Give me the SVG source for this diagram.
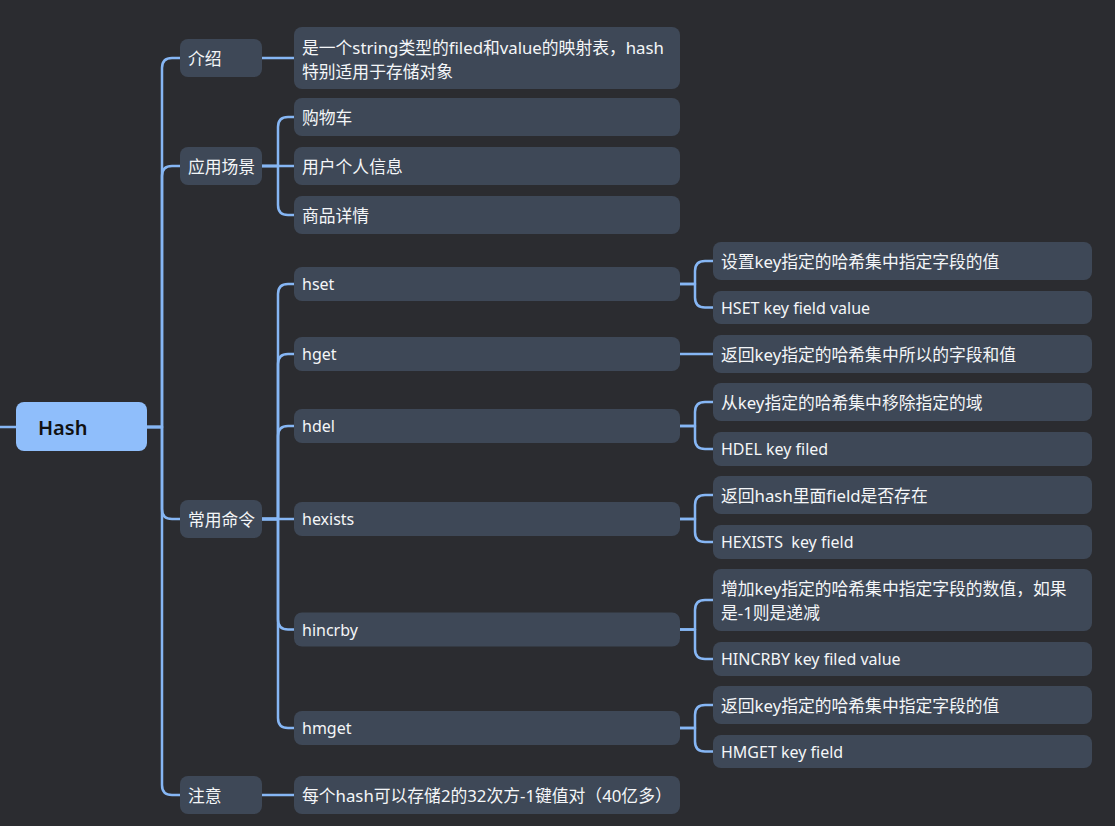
<svg xmlns="http://www.w3.org/2000/svg" width="1115" height="826" viewBox="0 0 1115 826">
<style>
.bg{fill:#2b2c30}
.n{fill:#3e4857}
.root{fill:#8fbefb}
.t{font-family:"Noto Sans","Noto Sans CJK SC",sans-serif;font-size:16px;fill:#f4f6f8;dominant-baseline:central;white-space:pre}
.z{font-size:16.8px}
.rt{font-family:"Noto Sans","Noto Sans CJK SC",sans-serif;font-size:20px;font-weight:600;fill:#111;dominant-baseline:central}
.c{fill:none;stroke:#86b6f4;stroke-width:2.5;stroke-linecap:round;stroke-linejoin:round}
</style>
<rect class="bg" x="0" y="0" width="1115" height="826"/>
<g id="connectors">
<path class="c" d="M0,427 H16"/>
<path class="c" d="M147,427 H162 V68 Q162,58 172,58 H180"/>
<path class="c" d="M147,427 H162 V176 Q162,166 172,166 H180"/>
<path class="c" d="M147,427 H162 V509 Q162,519 172,519 H180"/>
<path class="c" d="M147,427 H162 V785 Q162,795 172,795 H180"/>
<path class="c" d="M262,58 H294"/>
<path class="c" d="M262,166 H278 V127 Q278,117 288,117 H294"/>
<path class="c" d="M262,166 H294"/>
<path class="c" d="M262,166 H278 V205 Q278,215 288,215 H294"/>
<path class="c" d="M262,519 H278 V294 Q278,284 288,284 H294"/>
<path class="c" d="M262,519 H278 V364 Q278,354 288,354 H294"/>
<path class="c" d="M262,519 H278 V436 Q278,426 288,426 H294"/>
<path class="c" d="M262,519 H294"/>
<path class="c" d="M262,519 H278 V619.5 Q278,629.5 288,629.5 H294"/>
<path class="c" d="M262,519 H278 V718 Q278,728 288,728 H294"/>
<path class="c" d="M262,795 H294"/>
<path class="c" d="M680,284 H695 V271 Q695,261 705,261 H713"/>
<path class="c" d="M680,284 H695 V297.5 Q695,307.5 705,307.5 H713"/>
<path class="c" d="M680,354 H713"/>
<path class="c" d="M680,426 H695 V412 Q695,402 705,402 H713"/>
<path class="c" d="M680,426 H695 V439 Q695,449 705,449 H713"/>
<path class="c" d="M680,519 H695 V505 Q695,495 705,495 H713"/>
<path class="c" d="M680,519 H695 V532 Q695,542 705,542 H713"/>
<path class="c" d="M680,629.5 H695 V610 Q695,600 705,600 H713"/>
<path class="c" d="M680,629.5 H695 V649 Q695,659 705,659 H713"/>
<path class="c" d="M680,728 H695 V715 Q695,705 705,705 H713"/>
<path class="c" d="M680,728 H695 V741.5 Q695,751.5 705,751.5 H713"/>
</g>
<g id="root"><rect class="root" x="16" y="402" width="131" height="49" rx="8"/><text class="rt" x="38" y="427">Hash</text></g>
<g id="intro"><rect class="n" x="180" y="39" width="82" height="38" rx="8"/><text class="t z" x="188" y="58">介绍</text></g>
<g id="intro-desc"><rect class="n" x="294" y="27" width="386" height="62" rx="8"/><text class="t z" x="302" y="47">是一个string类型的filed和value的映射表，hash</text><text class="t z" x="302" y="71">特别适用于存储对象</text></g>
<g id="scene"><rect class="n" x="180" y="147" width="82" height="38" rx="8"/><text class="t z" x="188" y="166">应用场景</text></g>
<g id="scene-1"><rect class="n" x="294" y="98" width="386" height="38" rx="8"/><text class="t z" x="302" y="117">购物车</text></g>
<g id="scene-2"><rect class="n" x="294" y="147" width="386" height="38" rx="8"/><text class="t z" x="302" y="166">用户个人信息</text></g>
<g id="scene-3"><rect class="n" x="294" y="196" width="386" height="38" rx="8"/><text class="t z" x="302" y="215">商品详情</text></g>
<g id="cmds"><rect class="n" x="180" y="500" width="82" height="38" rx="8"/><text class="t z" x="188" y="519">常用命令</text></g>
<g id="hset"><rect class="n" x="294" y="267" width="386" height="34" rx="8"/><text class="t" x="302" y="284">hset</text></g>
<g id="hget"><rect class="n" x="294" y="337" width="386" height="34" rx="8"/><text class="t" x="302" y="354">hget</text></g>
<g id="hdel"><rect class="n" x="294" y="409" width="386" height="34" rx="8"/><text class="t" x="302" y="426">hdel</text></g>
<g id="hexists"><rect class="n" x="294" y="502" width="386" height="34" rx="8"/><text class="t" x="302" y="519">hexists</text></g>
<g id="hincrby"><rect class="n" x="294" y="612.5" width="386" height="34" rx="8"/><text class="t" x="302" y="629.5">hincrby</text></g>
<g id="hmget"><rect class="n" x="294" y="711" width="386" height="34" rx="8"/><text class="t" x="302" y="728">hmget</text></g>
<g id="hset-1"><rect class="n" x="713" y="242" width="379" height="38" rx="8"/><text class="t z" x="721" y="261">设置key指定的哈希集中指定字段的值</text></g>
<g id="hset-2"><rect class="n" x="713" y="291" width="379" height="33" rx="8"/><text class="t" x="721" y="307.5">HSET key field value</text></g>
<g id="hget-1"><rect class="n" x="713" y="335" width="379" height="38" rx="8"/><text class="t z" x="721" y="354">返回key指定的哈希集中所以的字段和值</text></g>
<g id="hdel-1"><rect class="n" x="713" y="383" width="379" height="38" rx="8"/><text class="t z" x="721" y="402">从key指定的哈希集中移除指定的域</text></g>
<g id="hdel-2"><rect class="n" x="713" y="432" width="379" height="34" rx="8"/><text class="t" x="721" y="449">HDEL key filed</text></g>
<g id="hexists-1"><rect class="n" x="713" y="476" width="379" height="38" rx="8"/><text class="t z" x="721" y="495">返回hash里面field是否存在</text></g>
<g id="hexists-2"><rect class="n" x="713" y="525" width="379" height="34" rx="8"/><text class="t" x="721" y="542">HEXISTS  key field</text></g>
<g id="hincrby-1"><rect class="n" x="713" y="569" width="379" height="62" rx="8"/><text class="t z" x="721" y="588">增加key指定的哈希集中指定字段的数值，如果</text><text class="t z" x="721" y="612">是-1则是递减</text></g>
<g id="hincrby-2"><rect class="n" x="713" y="642" width="379" height="34" rx="8"/><text class="t" x="721" y="659">HINCRBY key filed value</text></g>
<g id="hmget-1"><rect class="n" x="713" y="686" width="379" height="38" rx="8"/><text class="t z" x="721" y="705">返回key指定的哈希集中指定字段的值</text></g>
<g id="hmget-2"><rect class="n" x="713" y="735" width="379" height="33" rx="8"/><text class="t" x="721" y="751.5">HMGET key field</text></g>
<g id="note"><rect class="n" x="180" y="776" width="82" height="38" rx="8"/><text class="t z" x="188" y="795">注意</text></g>
<g id="note-1"><rect class="n" x="294" y="776" width="386" height="38" rx="8"/><text class="t z" x="302" y="795">每个hash可以存储2的32次方-1键值对（40亿多）</text></g>
</svg>
